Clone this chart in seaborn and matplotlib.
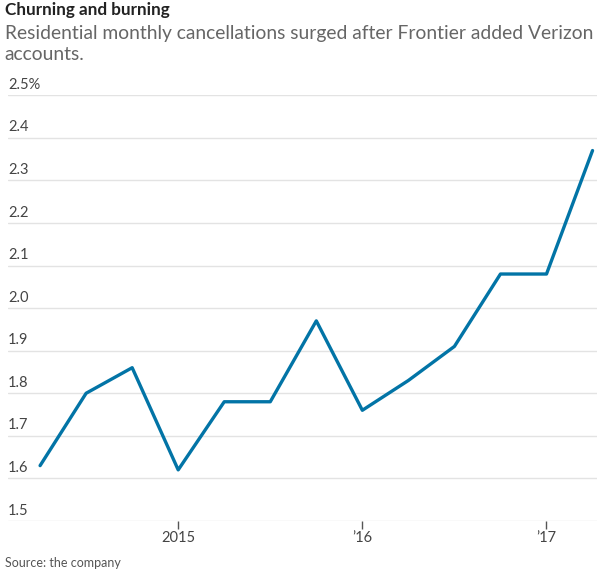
import matplotlib
matplotlib.use("Agg")
import matplotlib.pyplot as plt
import matplotlib.transforms as mtransforms
import seaborn as sns
import pandas as pd

# quarterly data, 2014 Q2 .. 2017 Q2
quarters = ["2014Q2", "2014Q3", "2014Q4", "2015Q1", "2015Q2", "2015Q3", "2015Q4",
            "2016Q1", "2016Q2", "2016Q3", "2016Q4", "2017Q1", "2017Q2"]
churn = [1.63, 1.80, 1.86, 1.62, 1.78, 1.78, 1.97, 1.76, 1.83, 1.91, 2.08, 2.08, 2.37]
tick_quarters = ["2015Q1", "2016Q1", "2017Q1"]
tick_labels = ["2015", "\u201916", "\u201917"]
y_ticks = [1.5, 1.6, 1.7, 1.8, 1.9, 2.0, 2.1, 2.2, 2.3, 2.4, 2.5]
y_labels = ["1.5", "1.6", "1.7", "1.8", "1.9", "2.0", "2.1", "2.2", "2.3", "2.4", "2.5%"]

df = pd.DataFrame({"pos": range(len(quarters)), "quarter": quarters, "churn": churn})

sns.set_theme(style="white")
plt.rcParams["font.family"] = ["Lato", "DejaVu Sans"]

fig = plt.figure(figsize=(6.05, 5.7), dpi=100)
ax = fig.add_axes([0.013, 0.086, 0.974, 0.747])

sns.lineplot(data=df, x="pos", y="churn", color="#0274a6", linewidth=2.4, ax=ax)

ax.set_xlim(-0.7, 12.1)
ax.set_ylim(1.5, 2.5)
for y in y_ticks:
    ax.axhline(y, color="#e3e3e3", linewidth=1, zorder=0)

# y labels sit above gridlines at the left
trans = mtransforms.blended_transform_factory(ax.transAxes, ax.transData)
for y, lab in zip(y_ticks, y_labels):
    ax.text(0.0, y + 0.008, lab, transform=trans, ha="left", va="bottom",
            fontsize=10.5, color="#444444")
ax.set_yticks([])

ax.set_xticks([quarters.index(q) for q in tick_quarters])
ax.set_xticklabels(tick_labels, fontsize=10.5, color="#444444")
ax.tick_params(axis="x", direction="out", length=6, width=1, color="#555555", pad=1, bottom=True)
for s in ax.spines.values():
    s.set_visible(False)
ax.set_xlabel("")
ax.set_ylabel("")

fig.text(0.008, 0.982, "Churning and burning", fontsize=12.3, fontweight="bold",
         color="#222222", va="center")
fig.text(0.008, 0.923, "Residential monthly cancellations surged after Frontier added Verizon\naccounts.",
         fontsize=13.9, color="#666666", va="center", linespacing=1.32)
fig.text(0.008, 0.012, "Source: the company", fontsize=9, color="#555555", va="center")

fig.savefig("out.png", dpi=100)
